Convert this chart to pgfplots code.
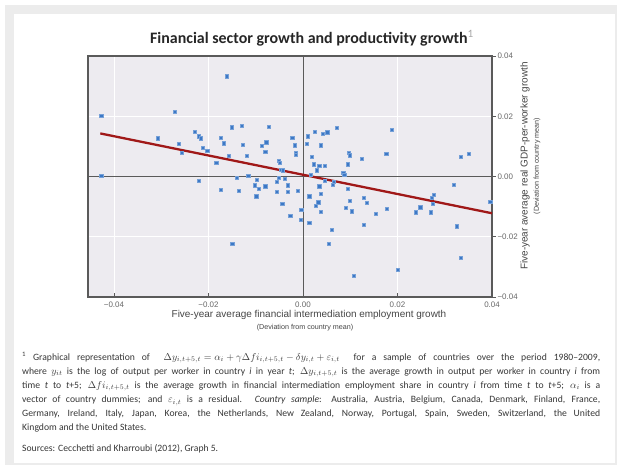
\documentclass[border=0pt]{standalone}
\usepackage{fontspec}
\setmainfont{Carlito}
\newfontfamily\arial{Liberation Sans}
\usepackage{pgfplots}
\usepackage{pgfplotstable}
\pgfplotsset{compat=1.18}

\definecolor{plotbg}{RGB}{237,235,240}
\definecolor{axisgray}{RGB}{90,90,90}
\definecolor{dotblue}{RGB}{60,120,198}
\definecolor{regred}{RGB}{160,24,24}
\definecolor{labelgray}{RGB}{70,70,70}
\definecolor{tickgray}{RGB}{105,105,105}
\definecolor{notegray}{RGB}{55,55,55}
\definecolor{framegray}{RGB}{236,236,236}

% x: fin. intermediation employment growth, y: GDP-per-worker growth
\pgfplotstableread{
x y
-0.0161 0.0333
-0.0427 0.0203
-0.0271 0.0215
-0.0308 0.0127
-0.0264 0.0109
-0.0256 0.0079
-0.0230 0.0149
-0.0220 0.0134
-0.0216 0.0127
-0.0213 0.0096
-0.0203 0.0087
-0.0184 0.0047
-0.0175 0.0130
-0.0168 0.0111
-0.0158 0.0070
-0.0151 0.0164
-0.0129 0.0169
-0.0128 0.0105
-0.0120 0.0069
-0.0073 0.0166
-0.0087 0.0103
-0.0078 0.0114
-0.0080 0.0083
-0.0051 0.0053
-0.0049 0.0047
-0.0047 0.0023
-0.0043 0.0021
-0.0023 0.0129
-0.0017 0.0104
-0.0016 0.0078
-0.0015 0.0073
-0.0427 0.0004
-0.0221 -0.0013
-0.0140 -0.0004
-0.0116 0.0003
-0.0052 -0.0003
-0.0038 -0.0008
-0.0098 -0.0010
-0.0103 -0.0029
-0.0094 -0.0040
-0.0080 -0.0032
-0.0174 -0.0043
-0.0137 -0.0046
-0.0099 -0.0065
-0.0056 -0.0016
-0.0033 -0.0029
-0.0056 -0.0049
-0.0033 -0.0049
-0.0012 -0.0048
-0.0044 -0.0090
-0.0027 -0.0130
-0.0005 -0.0143
-0.0004 -0.0110
-0.0150 -0.0224
0.0009 0.0134
0.0008 0.0108
0.0024 0.0150
0.0041 0.0143
0.0051 0.0147
0.0071 0.0163
0.0037 0.0104
0.0018 0.0067
0.0023 0.0041
0.0034 0.0035
0.0046 0.0035
0.0029 0.0021
0.0017 0.0006
0.0085 0.0013
0.0087 0.0007
0.0097 0.0078
0.0099 0.0071
0.0095 0.0041
0.0124 0.0060
0.0176 0.0076
0.0187 0.0156
0.0333 0.0065
0.0351 0.0077
0.0013 -0.0154
0.0013 -0.0065
0.0034 -0.0032
0.0038 -0.0056
0.0032 -0.0085
0.0026 -0.0098
0.0038 -0.0116
0.0045 -0.0015
0.0062 -0.0026
0.0065 -0.0018
0.0095 -0.0039
0.0099 -0.0080
0.0090 -0.0103
0.0103 -0.0115
0.0060 -0.0176
0.0054 -0.0222
0.0129 -0.0069
0.0135 -0.0087
0.0129 -0.0160
0.0154 -0.0123
0.0177 -0.0106
0.0108 -0.0329
0.0200 -0.0309
0.0238 -0.0118
0.0248 -0.0102
0.0270 -0.0118
0.0273 -0.0070
0.0277 -0.0060
0.0275 -0.0090
0.0319 -0.0026
0.0325 -0.0165
0.0333 -0.0269
0.0396 -0.0083
}\scatterdata

\begin{document}
\begin{tikzpicture}
% page frame
\path[use as bounding box] (0,0) rectangle (620bp,-469bp);
\fill[framegray] (5bp,-5bp) rectangle (617bp,-465bp);
\fill[white] (14bp,-14bp) rectangle (615bp,-463bp);

\begin{axis}[
    at={(88bp,-297bp)}, anchor=south west,
    scale only axis,
    width=404bp, height=241bp,
    xmin=-0.0455, xmax=0.04,
    ymin=-0.04, ymax=0.04,
    scaled ticks=false,
    axis background/.style={fill=plotbg},
    axis line style={draw=axisgray, line width=1.3pt},
    xtick={-0.04,-0.02,0,0.02,0.04},
    ytick={-0.04,-0.02,0,0.02,0.04},
    xticklabels={−0.04,−0.02,0.00,0.02,0.04},
    yticklabels={−0.04,−0.02,0.00,0.02,0.04},
    xtick pos=bottom, ytick pos=right,
    yticklabel pos=right,
    tick align=inside,
    major tick length=4bp,
    every tick/.style={axisgray, line width=0.8pt},
    y tick style={xshift=4bp},
    tick label style={font=\arial\fontsize{8}{9}\selectfont, text=tickgray},
    xticklabel style={yshift=-1bp},
    yticklabel style={xshift=2bp},
    grid=major,
    major grid style={white, line width=0.9pt},
    clip=false,
]
\draw[axisgray, line width=0.9pt] (axis cs:0,-0.04) -- (axis cs:0,0.04);
\draw[axisgray, line width=0.9pt] (axis cs:-0.0455,0) -- (axis cs:0.04,0);
\addplot[only marks, mark=square*, mark size=1.6bp,
         mark options={fill=dotblue, draw=dotblue!70!white, line width=0.3pt}]
    table[x=x, y=y] {\scatterdata};
\addplot[draw=regred, line width=2.3pt] coordinates {(-0.0429,0.0143) (0.04,-0.0122)};
\end{axis}

% title
\node[font=\bfseries\fontsize{16}{18}\selectfont, text=black!85] at (312bp,-38bp)
  {Financial sector growth and productivity growth\textsuperscript{\textcolor{black!35}{\mdseries 1}}};

% x-axis label
\node[font=\arial\fontsize{10}{12}\selectfont, text=labelgray] at (309bp,-315bp)
  {Five-year average financial intermediation employment growth};
\node[font=\arial\fontsize{7.2}{8}\selectfont, text=labelgray] at (305bp,-328bp)
  {(Deviation from country mean)};

% y-axis label (right)
\node[rotate=90, font=\arial\fontsize{10}{12}\selectfont, text=labelgray] at (525bp,-166bp)
  {Five-year average real GDP-per-worker growth};
\node[rotate=90, font=\arial\fontsize{7.2}{8}\selectfont, text=labelgray] at (537bp,-166bp)
  {(Deviation from country mean)};

% footnote
\node[anchor=north west, inner sep=0pt, text width=578bp, align=justify,
      font=\fontsize{9.7}{14.2}\selectfont, text=notegray] at (22bp,-352bp)
  {\textsuperscript{1}\ Graphical representation of\ \ \mbox{$\Delta y_{i,t+5,t}=\alpha_i+\gamma\Delta fi_{i,t+5,t}-\delta y_{i,t}+\varepsilon_{i,t}$}\ \ for a sample of countries over the period 1980–2009,\linebreak
  where $y_{it}$ is the log of output per worker in country \textit{i} in year \textit{t}; \mbox{$\Delta y_{i,t+5,t}$} is the average growth in output per worker in country \textit{i} from\linebreak
  time \textit{t} to \textit{t}+5; \mbox{$\Delta fi_{i,t+5,t}$} is the average growth in financial intermediation employment share in country \textit{i} from time \textit{t} to \textit{t}+5; $\alpha_i$ is a\linebreak
  vector of country dummies; and $\varepsilon_{i,t}$ is a residual. \textit{Country sample}: Australia, Austria, Belgium, Canada, Denmark, Finland, France,\linebreak
  Germany, Ireland, Italy, Japan, Korea, the Netherlands, New Zealand, Norway, Portugal, Spain, Sweden, Switzerland, the United\linebreak
  Kingdom and the United States.\par
  \vspace{6bp}
  Sources: Cecchetti and Kharroubi (2012), Graph 5.};
\end{tikzpicture}
\end{document}
